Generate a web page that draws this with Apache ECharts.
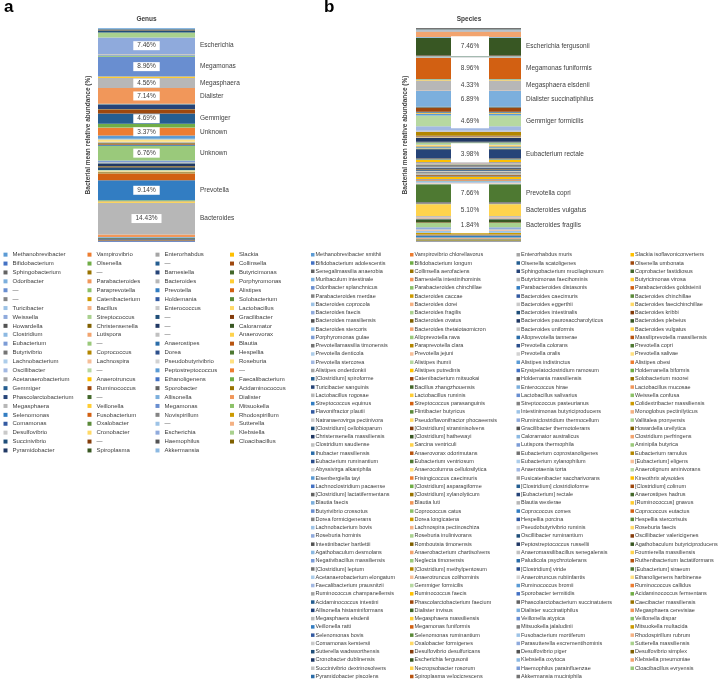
<!DOCTYPE html>
<html><head><meta charset="utf-8">
<script src="https://cdn.jsdelivr.net/npm/echarts@6/dist/echarts.min.js"></script>
<style>html,body{margin:0;padding:0;background:#fff}#c{width:728px;height:682px}</style>
</head><body><div id="c"></div>
<script>
// ---------------- DATA ----------------
const genusNames = [
'Methanobrevibacter','Vampirovibrio','Enterorhabdus','Slackia',
'Bifidobacterium','Olsenella','—','Collinsella',
'Sphingobacterium','—','Barnesiella','Butyricimonas',
'Odoribacter','Parabacteroides','Bacteroides','Porphyromonas',
'—','Paraprevotella','Prevotella','Alistipes',
'—','Catenibacterium','Holdemania','Solobacterium',
'Turicibacter','Bacillus','Enterococcus','Lactobacillus',
'Weissella','Streptococcus','—','Gracilibacter',
'Howardella','Christensenella','—','Caloramator',
'Clostridium','Lutispora','—','Anaerovorax',
'Eubacterium','—','Anaerostipes','Blautia',
'Butyrivibrio','Coprococcus','Dorea','Hespellia',
'Lachnobacterium','Lachnospira','Pseudobutyrivibrio','Roseburia',
'Oscillibacter','—','Peptostreptococcus','—',
'Acetanaerobacterium','Anaerotruncus','Ethanoligenens','Faecalibacterium',
'Gemmiger','Ruminococcus','Sporobacter','Acidaminococcus',
'Phascolarctobacterium','—','Allisonella','Dialister',
'Megasphaera','Veillonella','Megamonas','Mitsuokella',
'Selenomonas','Fusobacterium','Novispirillum','Rhodospirillum',
'Comamonas','Oxalobacter','—','Sutterella',
'Desulfovibrio','Cronobacter','Escherichia','Klebsiella',
'Succinivibrio','—','Haemophilus','Cloacibacillus',
'Pyramidobacter','Spiroplasma','Akkermansia'];
const genusValues = [
0.05,0.02,0.03,0.05, 0.45,0.05,0.05,0.35, 0.03,0.05,0.45,0.3, 0.35,1.2,14.43,0.6,
0.15,0.3,9.14,3.0, 0.15,0.5,0.05,0.05, 0.1,0.05,0.1,0.3, 0.05,0.3,0.9,0.15,
0.5,0.3,1.1,0.1, 0.1,0.05,0.1,0.05, 0.9,6.76,0.3,0.35, 0.1,0.4,0.2,0.05,
0.05,0.15,0.15,1.0, 0.2,0.2,1.5,3.37, 0.1,0.1,0.1,1.6, 4.69,1.8,0.15,0.15,
2.0,0.15,0.15,7.14, 4.56,0.7,8.96,0.4, 0.05,0.05,0.05,0.05, 0.05,0.05,0.05,0.1,
0.4,0.05,7.46,2.3, 0.6,0.1,0.2,0.1, 0.3,0.1,0.6];
const genusLabeled = [82,70,68,67,60,55,41,18,14];
const genusLabelText = ['Escherichia','Megamonas','Megasphaera','Dialister','Gemmiger','Unknown','Unknown','Prevotella','Bacteroides'];

const speciesNames = [
'Methanobrevibacter smithii','Vampirovibrio chlorellavorus','Enterorhabdus muris','Slackia isoflavoniconvertens',
'Bifidobacterium adolescentis','Bifidobacterium longum','Olsenella scatoligenes','Olsenella umbonata',
'Senegalimassilia anaerobia','Collinsella aerofaciens','Sphingobacterium mucilaginosum','Coprobacter fastidiosus',
'Muribaculum intestinale','Barnesiella intestinihominis','Butyricimonas faecihominis','Butyricimonas virosa',
'Odoribacter splanchnicus','Parabacteroides chinchillae','Parabacteroides distasonis','Parabacteroides goldsteinii',
'Parabacteroides merdae','Bacteroides caccae','Bacteroides caecimuris','Bacteroides chinchillae',
'Bacteroides coprocola','Bacteroides dorei','Bacteroides eggerthii','Bacteroides faecichinchillae',
'Bacteroides faecis','Bacteroides fragilis','Bacteroides intestinalis','Bacteroides kribbi',
'Bacteroides massiliensis','Bacteroides ovatus','Bacteroides paurosaccharolyticus','Bacteroides plebeius',
'Bacteroides stercoris','Bacteroides thetaiotaomicron','Bacteroides uniformis','Bacteroides vulgatus',
'Porphyromonas gulae','Alloprevotella rava','Alloprevotella tannerae','Massiliprevotella massiliensis',
'Prevotellamassilia timonensis','Paraprevotella clara','Prevotella colorans','Prevotella copri',
'Prevotella denticola','Prevotella jejuni','Prevotella oralis','Prevotella salivae',
'Prevotella stercorea','Alistipes ihumii','Alistipes indistinctus','Alistipes obesi',
'Alistipes onderdonkii','Alistipes putredinis','Erysipelatoclostridium ramosum','Holdemanella biformis',
'[Clostridium] spiroforme','Catenibacterium mitsuokai','Holdemania massiliensis','Solobacterium moorei',
'Turicibacter sanguinis','Bacillus zhangzhouensis','Enterococcus hirae','Lactobacillus mucosae',
'Lactobacillus rogosae','Lactobacillus ruminis','Lactobacillus salivarius','Weissella confusa',
'Streptococcus equinus','Streptococcus parasanguinis','Streptococcus pasteurianus','Colidextribacter massiliensis',
'Flavonifractor plautii','Flintibacter butyricus','Intestinimonas butyriciproducens','Monoglobus pectinilyticus',
'Natranaerovirga pectinivora','Pseudoflavonifractor phocaeensis','Ruminiclostridium thermocellum','Vallitalea pronyensis',
'[Clostridium] cellobioparum','[Clostridium] straminisolvens','Gracilibacter thermotolerans','Howardella ureilytica',
'Christensenella massiliensis','[Clostridium] hathewayi','Caloramator australicus','Clostridium perfringens',
'Clostridium saudiense','Sarcina ventriculi','Lutispora thermophila','Aminipila butyrica',
'Ihubacter massiliensis','Anaerovorax odorimutans','Eubacterium coprostanoligenes','Eubacterium ramulus',
'Eubacterium ruminantium','Eubacterium ventriosum','Eubacterium xylanophilum','[Eubacterium] eligens',
'Abyssivirga alkaniphila','Anaerocolumna cellulosilytica','Anaerotaenia torta','Anaerotignum aminivorans',
'Eisenbergiella tayi','Frisingicoccus caecimuris','Fusicatenibacter saccharivorans','Kineothrix alysoides',
'Lachnoclostridium pacaense','[Clostridium] asparagiforme','[Clostridium] clostridioforme','[Clostridium] colinum',
'[Clostridium] lactatifermentans','[Clostridium] xylanolyticum','[Eubacterium] rectale','Anaerostipes hadrus',
'Blautia faecis','Blautia luti','Blautia wexlerae','[Ruminococcus] gnavus',
'Butyrivibrio crossotus','Coprococcus catus','Coprococcus comes','Coprococcus eutactus',
'Dorea formicigenerans','Dorea longicatena','Hespellia porcina','Hespellia stercorisuis',
'Lachnobacterium bovis','Lachnospira pectinoschiza','Pseudobutyrivibrio ruminis','Roseburia faecis',
'Roseburia hominis','Roseburia inulinivorans','Oscillibacter ruminantium','Oscillibacter valericigenes',
'Intestinibacter bartlettii','Romboutsia timonensis','Peptostreptococcus russellii','Agathobaculum butyriciproducens',
'Agathobaculum desmolans','Anaerobacterium chartisolvens','Anaeromassilibacillus senegalensis','Fournierella massiliensis',
'Negativibacillus massiliensis','Neglecta timonensis','Paludicola psychrotolerans','Ruthenibacterium lactatiformans',
'[Clostridium] leptum','[Clostridium] methylpentosum','[Clostridium] viride','[Eubacterium] siraeum',
'Acetanaerobacterium elongatum','Anaerotruncus colihominis','Anaerotruncus rubiinfantis','Ethanoligenens harbinense',
'Faecalibacterium prausnitzii','Gemmiger formicilis','Ruminococcus bromii','Ruminococcus callidus',
'Ruminococcus champanellensis','Ruminococcus faecis','Sporobacter termitidis','Acidaminococcus fermentans',
'Acidaminococcus intestini','Phascolarctobacterium faecium','Phascolarctobacterium succinatutens','Caecibacter massiliensis',
'Allisonella histaminiformans','Dialister invisus','Dialister succinatiphilus','Megasphaera cerevisiae',
'Megasphaera elsdenii','Megasphaera massiliensis','Veillonella atypica','Veillonella dispar',
'Veillonella ratti','Megamonas funiformis','Mitsuokella jalaludinii','Mitsuokella multacida',
'Selenomonas bovis','Selenomonas ruminantium','Fusobacterium mortiferum','Rhodospirillum rubrum',
'Comamonas kerstersii','Oxalobacter formigenes','Parasutterella excrementihominis','Sutterella massiliensis',
'Sutterella wadsworthensis','Desulfovibrio desulfuricans','Desulfovibrio piger','Desulfovibrio simplex',
'Cronobacter dublinensis','Escherichia fergusonii','Klebsiella oxytoca','Klebsiella pneumoniae',
'Succinivibrio dextrinosolvens','Necropsobacter rosorum','Haemophilus parainfluenzae','Cloacibacillus evryensis',
'Pyramidobacter piscolens','Spiroplasma velocicrescens','Akkermansia muciniphila'];
const speciesValues = [
0.05,0.02,0.05,0.05, 0.25,0.2,0.05,0.05, 0.05,0.3,0.05,0.1, 0.05,0.3,0.1,0.1,
0.3,0.05,0.5,0.1, 0.5,0.6,0.1,0.05, 0.8,0.3,0.2,0.1, 1.0,1.84,0.1,0.02,
0.1,0.15,0.05,1.2, 0.3,0.4,0.6,5.10, 0.05,0.05,0.1,0.1, 0.2,0.3,0.2,7.66,
0.2,0.2,0.1,0.1, 0.3,0.2,0.3,0.3, 0.5,0.9,0.1,0.1, 0.1,0.4,0.05,0.05,
0.1,0.05,0.1,0.05, 0.2,0.2,0.05,0.05, 0.1,0.1,0.05,0.1, 0.2,0.1,0.1,0.1,
0.05,0.1,0.05,0.05, 0.3,0.1,0.2,0.2, 0.3,0.2,0.05,0.05, 0.05,0.05,0.05,0.05,
0.1,0.05,0.3,0.2, 0.2,0.2,0.05,0.2, 0.05,0.05,0.05,0.05, 0.1,0.1,0.4,1.0,
0.1,0.1,0.15,0.05, 0.05,0.1,3.98,0.2, 0.05,0.05,0.15,0.1, 0.1,0.1,0.15,0.1,
0.1,0.15,0.02,0.02, 0.05,0.1,0.05,0.3, 0.2,0.9,0.1,0.05, 0.1,0.1,1.6,0.1,
0.05,0.1,0.05,0.15, 0.05,0.05,0.05,0.2, 0.1,1.7,0.05,0.05, 0.13,0.15,0.05,0.1,
1.86,4.69,0.6,0.15, 0.1,0.2,0.1,0.1, 0.3,1.75,0.1,0.05, 0.05,0.25,6.89,0.1,
4.33,0.15,0.2,0.2, 0.1,8.96,0.05,0.1, 0.05,0.05,0.1,0.02, 0.05,0.15,0.15,0.05,
0.1,0.05,0.3,0.05, 0.05,7.46,0.25,2.2, 0.5,0.1,0.2,0.1, 0.15,0.05,0.6];
const speciesLabeled = [197,181,176,174,161,118,47,39,29];
const speciesLabelText = ['Escherichia fergusonii','Megamonas funiformis','Megasphaera elsdenii','Dialister succinatiphilus','Gemmiger formicilis','Eubacterium rectale','Prevotella copri','Bacteroides vulgatus','Bacteroides fragilis'];
// white label panels in the species bar: [lowest species, highest species]
const speciesPanelLo = [197,161,118,29];
const speciesPanelHi = [197,181,118,47];
const axisTitle = 'Bacterial mean relative abundance (%)';

// ---------------- STYLE ----------------
const FONT = '"Liberation Sans", Arial, sans-serif';
const TXT = '#404040';
const panelPadTop = [1.5,0.5,6,0.5];
const panelPadBottom = [1,2,4,6];
const accents = ['#5B9BD5','#ED7D31','#A5A5A5','#FFC000','#4472C4','#70AD47'];
const variations = [[1,0],[0.6,0],[0.8,0.2],[0.8,0],[0.6,0.4],[0.5,0],[0.7,0.3],[0.7,0],[0.5,0.5]];
function hex2rgb(h){h=h.replace('#','');return [0,2,4].map(i=>parseInt(h.substr(i,2),16)/255);}
function rgb2hsl(r,g,b){const mx=Math.max(r,g,b),mn=Math.min(r,g,b);let h=0,s=0;const l=(mx+mn)/2;
 if(mx!==mn){const d=mx-mn;s=l>0.5?d/(2-mx-mn):d/(mx+mn);
  if(mx===r)h=(g-b)/d+(g<b?6:0);else if(mx===g)h=(b-r)/d+2;else h=(r-g)/d+4;h/=6;}
 return [h,s,l];}
function hue2rgb(p,q,t){if(t<0)t+=1;if(t>1)t-=1;if(t<1/6)return p+(q-p)*6*t;if(t<1/2)return q;if(t<2/3)return p+(q-p)*(2/3-t)*6;return p;}
function hsl2hex(h,s,l){let r,g,b;if(s===0){r=g=b=l;}else{const q=l<0.5?l*(1+s):l+s-l*s;const p=2*l-q;
 r=hue2rgb(p,q,h+1/3);g=hue2rgb(p,q,h);b=hue2rgb(p,q,h-1/3);}
 return '#'+[r,g,b].map(v=>Math.round(Math.max(0,Math.min(1,v))*255).toString(16).padStart(2,'0')).join('');}
function excelColor(i){const [r,g,b]=hex2rgb(accents[i%6]);const [m,o]=variations[Math.floor(i/6)%9];
 const [h,s,l]=rgb2hsl(r,g,b);return hsl2hex(h,s,Math.min(1,l*m+o));}

function cum(values, idx){let s=0;for(let i=0;i<idx;i++)s+=values[i];return s;}
const genusTotal = genusValues.reduce((a,b)=>a+b,0);
const speciesTotal = speciesValues.reduce((a,b)=>a+b,0);

const chart = echarts.init(document.getElementById('c'), null, {renderer:'canvas'});
const series = [];
genusValues.forEach((v,i)=>series.push({type:'bar',name:'g'+i,stack:'g',xAxisIndex:0,yAxisIndex:0,
  data:[v],barWidth:'100%',itemStyle:{color:excelColor(i)},emphasis:{disabled:true},silent:true}));
speciesValues.forEach((v,i)=>series.push({type:'bar',name:'s'+i,stack:'s',xAxisIndex:1,yAxisIndex:1,
  data:[v],barWidth:'100%',itemStyle:{color:excelColor(i)},emphasis:{disabled:true},silent:true}));

function textEl(text,x,y,align,font,extra){
  return {type:'text',style:Object.assign({text:text,x:x,y:y,align:align,textAlign:align,verticalAlign:'middle',
    textVerticalAlign:'middle',font:font,fill:TXT},extra||{})};
}
// genus labels
series.push({type:'custom',coordinateSystem:'cartesian2d',xAxisIndex:0,yAxisIndex:0,z:10,silent:true,
  data:genusLabeled.map((_,k)=>[0,k]),
  renderItem:function(params,api){
    const k=api.value(1), idx=genusLabeled[k];
    const lo=cum(genusValues,idx), hi=lo+genusValues[idx];
    const p1=api.coord([0,lo]), p2=api.coord([0,hi]);
    const cy=(p1[1]+p2[1])/2, cx=p1[0], hw=api.size([1,0])[0]/2;
    return {type:'group',children:[
      textEl(genusValues[idx].toFixed(2)+'%',cx,cy,'center','6.5px '+FONT,{backgroundColor:'#fff',padding:[1.2,4,0.8,4]}),
      textEl(genusLabelText[k],cx+hw+5,cy,'left','6.5px '+FONT)
    ]};
  }});
// species white panels
series.push({type:'custom',coordinateSystem:'cartesian2d',xAxisIndex:1,yAxisIndex:1,z:10,silent:true,
  data:speciesPanelLo.map((_,k)=>[0,k]),
  renderItem:function(params,api){
    const k=api.value(1);
    const lo=cum(speciesValues,speciesPanelLo[k]);
    const hi=cum(speciesValues,speciesPanelHi[k])+speciesValues[speciesPanelHi[k]];
    const p1=api.coord([0,lo]), p2=api.coord([0,hi]);
    const cx=p1[0]+1.5;
    const y0=p2[1]-panelPadTop[k], y1=p1[1]+panelPadBottom[k];
    return {type:'rect',shape:{x:cx-19,y:y0,width:38,height:y1-y0},style:{fill:'#fff'}};
  }});
// species labels
series.push({type:'custom',coordinateSystem:'cartesian2d',xAxisIndex:1,yAxisIndex:1,z:11,silent:true,
  data:speciesLabeled.map((_,k)=>[0,k]),
  renderItem:function(params,api){
    const k=api.value(1), idx=speciesLabeled[k];
    const lo=cum(speciesValues,idx), hi=lo+speciesValues[idx];
    const p1=api.coord([0,lo]), p2=api.coord([0,hi]);
    const cy=(p1[1]+p2[1])/2, cx=p1[0], hw=api.size([1,0])[0]/2;
    return {type:'group',children:[
      textEl(speciesValues[idx].toFixed(2)+'%',cx+1.5,cy,'center','6.5px '+FONT),
      textEl(speciesLabelText[k],cx+hw+5,cy,'left','6.5px '+FONT)
    ]};
  }});

function fmt(name){const i=+name.slice(1);return name[0]==='g'?genusNames[i]:speciesNames[i];}
const legends=[];
[3.5,87.5,155.5,230].forEach((x,c)=>legends.push({orient:'vertical',left:x,top:250.2,padding:0,itemGap:0,
  itemWidth:4,itemHeight:4,icon:'rect',selectedMode:false,formatter:fmt,
  data:genusValues.map((_,i)=>'g'+i).filter((_,i)=>i%4===c),
  textStyle:{fontSize:6,lineHeight:8.9,color:TXT,fontFamily:FONT}}));
[311,410,516.5,630.5].forEach((x,c)=>legends.push({orient:'vertical',left:x,top:250.6,padding:0,itemGap:0,
  itemWidth:3.5,itemHeight:3.5,icon:'rect',selectedMode:false,formatter:fmt,
  data:speciesValues.map((_,i)=>'s'+i).filter((_,i)=>i%4===c),
  textStyle:{fontSize:5.5,lineHeight:8.27,color:TXT,fontFamily:FONT,padding:[0,0,0,-4]}}));

const yBase={type:'value',min:0,axisLine:{show:false},axisTick:{show:false},axisLabel:{show:false},splitLine:{show:false},
  name:axisTitle,nameLocation:'middle',nameRotate:90,
  nameTextStyle:{fontSize:6.5,fontWeight:'bold',color:TXT,fontFamily:FONT}};
chart.setOption({
  animation:false,
  grid:[{left:98,top:28,width:97,height:214},{left:416,top:28,width:105,height:214}],
  xAxis:[{type:'category',gridIndex:0,data:['Genus'],show:false},{type:'category',gridIndex:1,data:['Species'],show:false}],
  yAxis:[Object.assign({},yBase,{gridIndex:0,max:genusTotal,nameGap:6}),Object.assign({},yBase,{gridIndex:1,max:speciesTotal,nameGap:7})],
  legend:legends,
  graphic:[
    {type:'text',left:4,top:-1,style:{text:'a',font:'bold 17px '+FONT,fill:'#000'}},
    {type:'text',left:324,top:-1,style:{text:'b',font:'bold 17px '+FONT,fill:'#000'}},
    {type:'text',x:146.5,y:19.3,style:{text:'Genus',font:'bold 6.5px '+FONT,fill:TXT,align:'center',textAlign:'center',verticalAlign:'middle',textVerticalAlign:'middle'}},
    {type:'text',x:469,y:19.3,style:{text:'Species',font:'bold 6.5px '+FONT,fill:TXT,align:'center',textAlign:'center',verticalAlign:'middle',textVerticalAlign:'middle'}}
  ],
  series:series
});
</script></body></html>
